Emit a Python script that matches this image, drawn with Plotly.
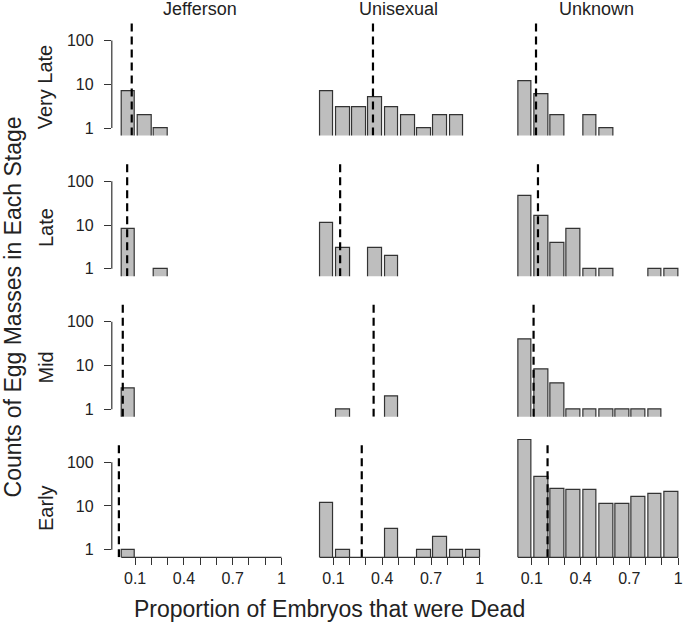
import plotly.graph_objects as go

# ---------------- data ----------------
groups = ["Jefferson", "Unisexual", "Unknown"]
stages = ["Very Late", "Late", "Mid", "Early"]
bin_right = [0.1, 0.2, 0.3, 0.4, 0.5, 0.6, 0.7, 0.8, 0.9, 1.0]
x_tick_labels = ["0.1", "", "", "0.4", "", "", "0.7", "", "", "1"]
y_tick_vals = [1, 10, 100]
y_tick_labels = ["1", "10", "100"]

# counts of egg masses per bin (None = empty bin)
jefferson_very_late = [7, 2, 1, None, None, None, None, None, None, None]
jefferson_late = [8, None, 1, None, None, None, None, None, None, None]
jefferson_mid = [3, None, None, None, None, None, None, None, None, None]
jefferson_early = [1, None, None, None, None, None, None, None, None, None]

unisexual_very_late = [7, 3, 3, 5, 3, 2, 1, 2, 2, None]
unisexual_late = [11, 3, None, 3, 2, None, None, None, None, None]
unisexual_mid = [None, 1, None, None, 2, None, None, None, None, None]
unisexual_early = [12, 1, None, None, 3, None, 1, 2, 1, 1]

unknown_very_late = [12, 6, 2, None, 2, 1, None, None, None, None]
unknown_late = [46, 16, 4, 8, 1, 1, None, None, 1, 1]
unknown_mid = [40, 8, 4, 1, 1, 1, 1, 1, 1, None]
unknown_early = [320, 47, 25, 23, 23, 11, 11, 16, 19, 21]

# mean proportion dead (dashed lines)
jefferson_means = [0.079, 0.051, 0.024, 0.0]
unisexual_means = [0.343, 0.141, 0.347, 0.274]
unknown_means = [0.126, 0.138, 0.111, 0.197]

counts = {
    "Jefferson": [jefferson_very_late, jefferson_late, jefferson_mid, jefferson_early],
    "Unisexual": [unisexual_very_late, unisexual_late, unisexual_mid, unisexual_early],
    "Unknown": [unknown_very_late, unknown_late, unknown_mid, unknown_early],
}
means = {"Jefferson": jefferson_means, "Unisexual": unisexual_means, "Unknown": unknown_means}

# ---------------- layout geometry ----------------
W, H = 685, 633
FONT = "Liberation Sans, Arial, Helvetica, sans-serif"
col_x0 = [119.4, 318.6, 517.8]      # pixel of x value 0 in each column
XS = 163.3                          # pixels per unit x
row_y1 = [128.3, 269.3, 410.0, 550.7]  # pixel of y=1 in each row
D = 43.9                            # pixels per decade
XR = [-0.0435, 1.012]
YR = [-0.17, 2.53]
DASH_TOP = 2.47
BAR_W = 0.085

fig = go.Figure()
layout = dict(
    width=W, height=H, margin=dict(l=0, r=0, t=0, b=0),
    plot_bgcolor="white", paper_bgcolor="white", showlegend=False,
    font=dict(family=FONT, color="#222"),
    bargap=0,
)
shapes = []
annotations = []

for r, stage in enumerate(stages):
    for c, g in enumerate(groups):
        k = r * 3 + c + 1
        xa = "x" if k == 1 else f"x{k}"
        ya = "y" if k == 1 else f"y{k}"
        xdom = [(col_x0[c] + XR[0] * XS) / W, (col_x0[c] + XR[1] * XS) / W]
        ydom = [1 - (row_y1[r] - YR[0] * D) / H, 1 - (row_y1[r] - YR[1] * D) / H]
        vals = counts[g][r]
        fig.add_trace(go.Bar(
            x=[b - BAR_W / 2 for b in bin_right], y=vals, width=BAR_W,
            marker=dict(color="#BEBEBE", line=dict(color="#333333", width=1.2)),
            xaxis=xa, yaxis=ya, hoverinfo="skip",
        ))
        m = means[g][r]
        fig.add_trace(go.Scatter(
            x=[m, m], y=[10 ** YR[0], 10 ** DASH_TOP], mode="lines",
            line=dict(color="black", width=2.2, dash="8px,5px"),
            xaxis=xa, yaxis=ya, hoverinfo="skip",
        ))
        bottom = r == len(stages) - 1
        left = c == 0
        xkey = "xaxis" if k == 1 else f"xaxis{k}"
        ykey = "yaxis" if k == 1 else f"yaxis{k}"
        layout[xkey] = dict(
            domain=xdom, range=XR, anchor=ya, showgrid=False, zeroline=False,
            showline=False,
            tickmode="array", tickvals=bin_right, ticktext=x_tick_labels,
            ticks="outside" if bottom else "", ticklen=7, tickcolor="#333",
            showticklabels=bottom, tickfont=dict(size=16, family=FONT, color="#222"),
            fixedrange=True,
        )
        layout[ykey] = dict(
            domain=ydom, range=YR, type="log", anchor=xa, showgrid=False,
            zeroline=False, showline=False,
            tickmode="array", tickvals=y_tick_vals, ticktext=y_tick_labels,
            ticks="outside" if left else "", ticklen=7, tickcolor="#333",
            showticklabels=left, tickfont=dict(size=16, family=FONT, color="#222"),
            ticklabelstandoff=7, fixedrange=True,
        )
        if left:
            shapes.append(dict(type="line", xref=f"{xa} domain", yref=ya,
                               x0=0, x1=0, y0=y_tick_vals[0], y1=y_tick_vals[-1],
                               line=dict(color="#333", width=1.2)))
            annotations.append(dict(
                text=stage, textangle=-90, showarrow=False,
                xref="paper", yref="paper", x=46 / W,
                y=1 - (row_y1[r] - 0.95 * D) / H,
                xanchor="center", yanchor="middle",
                font=dict(size=20, family=FONT, color="#222")))
        if bottom:
            shapes.append(dict(type="line", xref=xa, yref=f"{ya} domain",
                               x0=bin_right[0] - BAR_W, x1=bin_right[-1], y0=0, y1=0,
                               line=dict(color="#333", width=1.2)))
        if r == 0:
            annotations.append(dict(
                text=g, showarrow=False, xref="paper", yref="paper",
                x=(col_x0[c] + 0.5 * XS) / W, y=1 - 9 / H,
                xanchor="center", yanchor="middle",
                font=dict(size=18, family=FONT, color="#222")))

annotations.append(dict(
    text="Counts of Egg Masses in Each Stage", textangle=-90, showarrow=False,
    xref="paper", yref="paper", x=13 / W, y=1 - 307 / H,
    xanchor="center", yanchor="middle", font=dict(size=23, family=FONT, color="#222")))
annotations.append(dict(
    text="Proportion of Embryos that were Dead", showarrow=False,
    xref="paper", yref="paper", x=331 / W, y=1 - 610 / H,
    xanchor="center", yanchor="middle", font=dict(size=23, family=FONT, color="#222")))

layout["shapes"] = shapes
layout["annotations"] = annotations
fig.update_layout(**layout)
fig.write_html("out.html", config={"displayModeBar": False},
               post_script="document.body.style.margin='0px';")
